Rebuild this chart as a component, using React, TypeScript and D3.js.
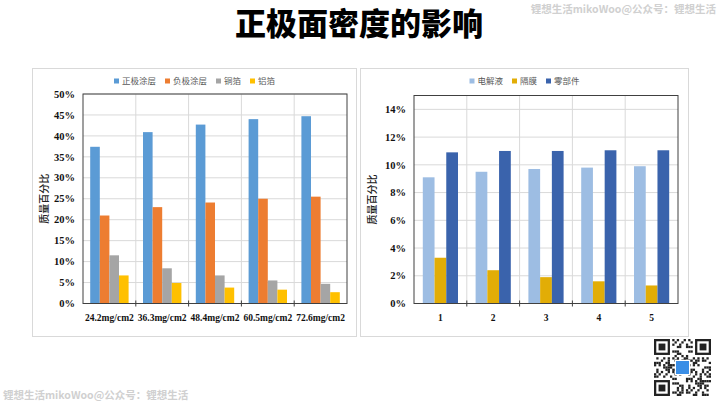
import React from "react";
import * as d3 from "d3";

// left chart: mass share per cathode areal density
const densityLabels = ["24.2mg/cm2", "36.3mg/cm2", "48.4mg/cm2", "60.5mg/cm2", "72.6mg/cm2"];
const cathodeCoating = [37.4, 40.9, 42.7, 44.0, 44.7];
const anodeCoating = [21.0, 23.0, 24.1, 25.0, 25.5];
const copperFoil = [11.5, 8.4, 6.7, 5.5, 4.7];
const aluminumFoil = [6.7, 4.9, 3.8, 3.3, 2.7];
const leftNames = ["正极涂层", "负极涂层", "铜箔", "铝箔"];
const leftTicks = [0, 5, 10, 15, 20, 25, 30, 35, 40, 45, 50];

// right chart
const rightCategories = ["1", "2", "3", "4", "5"];
const electrolyte = [9.1, 9.5, 9.7, 9.8, 9.9];
const separator = [3.3, 2.4, 1.9, 1.6, 1.3];
const partsShare = [10.9, 11.0, 11.0, 11.05, 11.05];
const rightNames = ["电解液", "隔膜", "零部件"];
const rightTicks = [0, 2, 4, 6, 8, 10, 12, 14];

const watermark = "锂想生活mikoWoo@公众号：锂想生活";

interface Series {
  name: string;
  values: number[];
  color: string;
}

interface PanelProps {
  box: [number, number, number, number];
  plot: [number, number, number, number];
  categories: string[];
  series: Series[];
  maxY: number;
  ticks: number[];
  legendY: number;
}

const Panel: React.FC<PanelProps> = ({ box, plot, categories, series, maxY, ticks, legendY }) => {
  const [bx, by, bw, bh] = box;
  const [px0, py0, px1, py1] = plot;
  const x = d3.scaleBand<string>().domain(categories).range([px0, px1]);
  const sub = d3
    .scaleBand<string>()
    .domain(series.map((s) => s.name))
    .range([0, x.bandwidth()])
    .paddingInner(0)
    .paddingOuter(0.75);
  const y = d3.scaleLinear().domain([0, maxY]).range([py1, py0]);

  // legend layout, centered on the panel
  const fs = 8.5;
  const widths = series.map((s) => 5 + 3 + s.name.length * fs + 9);
  const total = d3.sum(widths) - 9;
  let lx = bx + bw / 2 - total / 2;
  const legendItems = series.map((s, i) => {
    const item = { s, x: lx };
    lx += widths[i];
    return item;
  });

  return (
    <g>
      <rect x={bx} y={by} width={bw} height={bh} fill="#fff" stroke="#d9d9d9" />
      {/* gridlines */}
      {ticks.map((t) => (
        <line key={"h" + t} x1={px0} x2={px1} y1={y(t)} y2={y(t)} stroke="#d9d9d9" />
      ))}
      {categories.slice(1).map((c) => (
        <line key={"v" + c} x1={x(c)!} x2={x(c)!} y1={py0} y2={py1} stroke="#d9d9d9" />
      ))}
      {/* bars */}
      {categories.map((c, ci) =>
        series.map((s) => (
          <rect
            key={c + s.name}
            x={x(c)! + sub(s.name)!}
            y={y(s.values[ci])}
            width={sub.bandwidth()}
            height={py1 - y(s.values[ci])}
            fill={s.color}
          />
        ))
      )}
      {/* frame */}
      <rect x={px0} y={py0} width={px1 - px0} height={py1 - py0} fill="none" stroke="#404040" />
      {categories.slice(1).map((c) => (
        <line key={"t" + c} x1={x(c)!} x2={x(c)!} y1={py1 - 3} y2={py1 + 3} stroke="#404040" />
      ))}
      {/* y tick labels */}
      {ticks.map((t) => (
        <text
          key={"yl" + t}
          x={px0 - 8}
          y={y(t)}
          dy="0.35em"
          textAnchor="end"
          fontFamily="'Liberation Serif', serif"
          fontWeight="bold"
          fontSize={10.5}
          fill="#111"
        >
          {t}%
        </text>
      ))}
      {/* x labels */}
      {categories.map((c) => (
        <text
          key={"xl" + c}
          x={x(c)! + x.bandwidth() / 2}
          y={py1 + 17}
          textAnchor="middle"
          fontFamily="'Liberation Serif', serif"
          fontWeight="bold"
          fontSize={9.5}
          fill="#111"
        >
          {c}
        </text>
      ))}
      {/* y title */}
      <text
        transform={`translate(${bx + 11.5},${(py0 + py1) / 2}) rotate(-90)`}
        textAnchor="middle"
        dy="0.35em"
        fontFamily="'Noto Sans CJK SC', sans-serif"
        fontWeight="500"
        fontSize={10}
        fill="#222"
      >
        质量百分比
      </text>
      {/* legend */}
      {legendItems.map(({ s, x: ix }) => (
        <g key={"lg" + s.name}>
          <rect x={ix} y={legendY - 2.5} width={5} height={5} fill={s.color} />
          <text
            x={ix + 8}
            y={legendY}
            dy="0.35em"
            fontFamily="'Noto Sans CJK SC', sans-serif"
            fontSize={fs}
            fill="#595959"
          >
            {s.name}
          </text>
        </g>
      ))}
    </g>
  );
};

const QrMark: React.FC<{ x: number; y: number; size: number }> = ({ x, y, size }) => {
  const n = 25;
  const m = size / n;
  const finder = (i: number, j: number) =>
    (i < 8 && j < 8) || (i >= n - 8 && j < 8) || (i < 8 && j >= n - 8);
  const cells: [number, number][] = [];
  for (let i = 0; i < n; i++)
    for (let j = 0; j < n; j++) {
      if (finder(i, j)) continue;
      if ((i * 7 + j * 11 + ((i * j) % 7)) % 5 < 2) cells.push([i, j]);
    }
  const corners: [number, number][] = [
    [0, 0],
    [n - 7, 0],
    [0, n - 7],
  ];
  return (
    <g>
      <rect x={x} y={y} width={size} height={size} fill="#fff" />
      {cells.map(([i, j]) => (
        <rect key={i + "-" + j} x={x + i * m} y={y + j * m} width={m} height={m} fill="#222" />
      ))}
      {corners.map(([i, j]) => (
        <g key={"c" + i + j}>
          <rect x={x + i * m + m / 2} y={y + j * m + m / 2} width={6 * m} height={6 * m} fill="none" stroke="#222" strokeWidth={m} />
          <rect x={x + (i + 2) * m} y={y + (j + 2) * m} width={3 * m} height={3 * m} fill="#222" />
        </g>
      ))}
      <rect x={x + size / 2 - 7} y={y + size / 2 - 7} width={14} height={14} fill="#3a8ee6" stroke="#fff" />
    </g>
  );
};

export default function App() {
  const leftSeries: Series[] = [
    { name: leftNames[0], values: cathodeCoating, color: "#5b9bd5" },
    { name: leftNames[1], values: anodeCoating, color: "#ed7d31" },
    { name: leftNames[2], values: copperFoil, color: "#a5a5a5" },
    { name: leftNames[3], values: aluminumFoil, color: "#ffc000" },
  ];
  const rightSeries: Series[] = [
    { name: rightNames[0], values: electrolyte, color: "#9dbde3" },
    { name: rightNames[1], values: separator, color: "#e2ad06" },
    { name: rightNames[2], values: partsShare, color: "#3a63ac" },
  ];
  return (
    <div style={{ position: "absolute", left: 0, top: 0 }}>
      <svg width={718} height={404} style={{ display: "block", background: "#fff" }}>
        <text
          x={359}
          y={35}
          textAnchor="middle"
          fontFamily="'Noto Sans CJK SC', sans-serif"
          fontWeight="900"
          fontSize={31}
          fill="#000"
        >
          正极面密度的影响
        </text>
        <text
          x={716}
          y={13}
          textAnchor="end"
          fontFamily="'Noto Sans CJK SC', sans-serif"
          fontWeight="bold"
          fontSize={10.5}
          fill="#d0d0d0"
        >
          {watermark}
        </text>
        <text
          x={3}
          y={399}
          fontFamily="'Noto Sans CJK SC', sans-serif"
          fontWeight="bold"
          fontSize={10.5}
          fill="#d0d0d0"
        >
          {watermark}
        </text>
        <Panel
          box={[32.5, 68.5, 324, 268]}
          plot={[83, 94, 347, 303.5]}
          categories={densityLabels}
          series={leftSeries}
          maxY={50}
          ticks={leftTicks}
          legendY={81}
        />
        <Panel
          box={[360.5, 68.5, 328, 268]}
          plot={[414, 95.5, 678, 303.5]}
          categories={rightCategories}
          series={rightSeries}
          maxY={15}
          ticks={rightTicks}
          legendY={81}
        />
        <QrMark x={654} y={339} size={57} />
      </svg>
    </div>
  );
}
